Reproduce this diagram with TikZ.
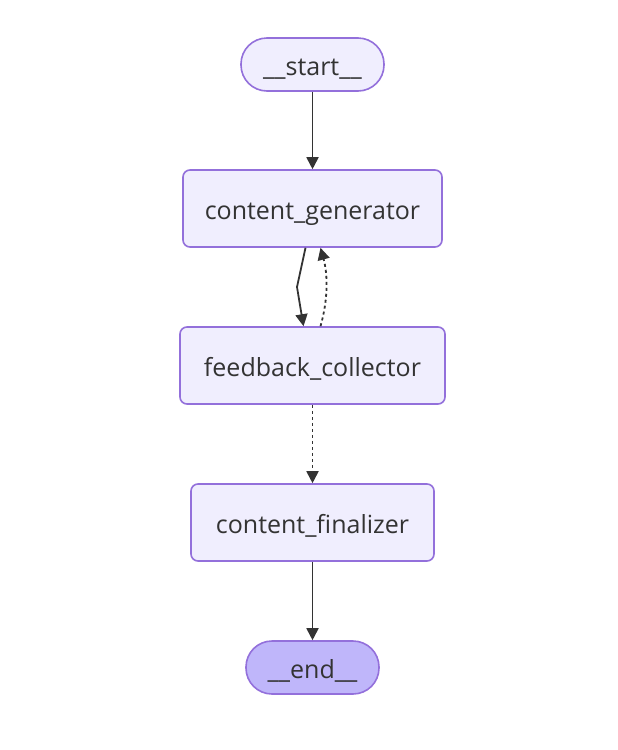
\documentclass[tikz,border=0pt]{standalone}
\usepackage{fontspec}
\setmainfont{Open Sans}
\usetikzlibrary{arrows.meta}
\definecolor{nodefill}{HTML}{F0EEFE}
\definecolor{nodeline}{HTML}{9370DB}
\definecolor{endfill}{HTML}{BFB6FA}
\definecolor{edgecol}{HTML}{333333}
\tikzset{
>={Triangle[length=12pt,width=12pt]},
  stepbox/.style={
    rectangle,
    rounded corners=7pt,
    fill=nodefill,
    draw=nodeline, line width=1.6pt,
    minimum height=77pt,
    text=edgecol,
    text height=22pt, text depth=0pt,
    font=\fontsize{25}{29}\selectfont},
  terminal/.style={
    rectangle,
    rounded corners=26pt,
    fill=nodefill,
    draw=nodeline, line width=1.6pt,
    minimum height=53pt,
    text=edgecol,
    text height=22pt, text depth=0pt,
    font=\fontsize{25}{29}\selectfont},
  line/.style={draw=edgecol, line width=1.8pt, ->},
  dotline/.style={line, dash pattern=on 3pt off 3pt},
}
\begin{document}
\begin{tikzpicture}[x=1pt,y=-1pt]
			\useasboundingbox (0,0) rectangle (618,750);
			\node[terminal, minimum width=143pt] (start) at (312.5,64.5) {\_\_start\_\_};
			\node[stepbox, minimum width=259pt] (generator) at (312.5,208.5) {content\_generator};
			\node[stepbox, minimum width=265pt] (collector) at (312.5,365.5) {feedback\_collector};
			\node[stepbox, minimum width=243pt] (finalizer) at (312.5,522.5) {content\_finalizer};
			\node[terminal, minimum width=133pt, fill=endfill] (end) at (312.5,667.5) {\_\_end\_\_};
			% edges
			\draw[line] (start) -- (generator);
			\draw[line] (generator.south) ++(-7,0) -- (297,287) -- ([xshift=-9pt]collector.north);
			\draw[dotline] ([xshift=8pt]collector.north) .. controls (328,300) and (328,275) .. ([xshift=8pt]generator.south);
			\draw[dotline] (collector) -- (finalizer);
			\draw[line] (finalizer) -- (end);
		\end{tikzpicture}
\end{document}
